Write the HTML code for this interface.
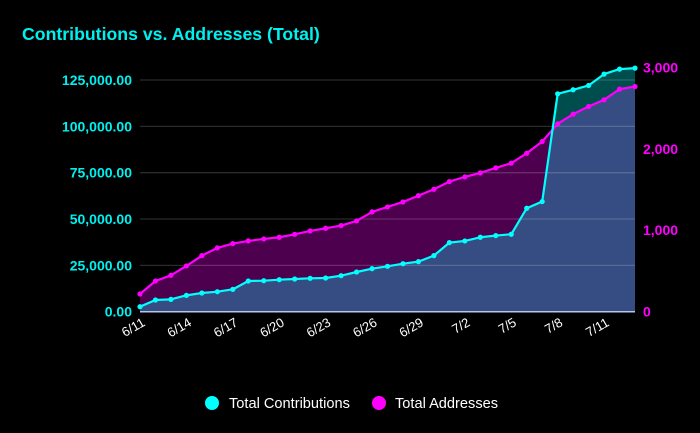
<!DOCTYPE html>
<html><head><meta charset="utf-8"><style>
html,body{margin:0;padding:0;background:#000;}
svg{display:block;font-family:"Liberation Sans",sans-serif;}
</style></head><body>
<svg id="chart" width="700" height="433" viewBox="0 0 700 433">
<rect x="0" y="0" width="700" height="433" fill="#000"/>
<text x="22" y="40" fill="#00f0f0" font-size="17.7" font-weight="bold">Contributions vs. Addresses (Total)</text>
<g id="plot"></g>
<g>
<g>
<circle cx="212" cy="403" r="7" fill="#00ffff"/>
<text x="229" y="408" fill="#fff" font-size="14.6">Total Contributions</text></g>
<g>
<circle cx="379" cy="403" r="7" fill="#ff00ff"/>
<text x="395" y="408" fill="#fff" font-size="14.6">Total Addresses</text></g>
</g>
</svg>
<script>
const dates = ["6/11","6/12","6/13","6/14","6/15","6/16","6/17","6/18","6/19","6/20","6/21","6/22","6/23","6/24","6/25","6/26","6/27","6/28","6/29","6/30","7/1","7/2","7/3","7/4","7/5","7/6","7/7","7/8","7/9","7/10","7/11","7/12","7/13"];
const contributions = [2700,6300,6660,8820,10080,10800,12060,16560,16740,17280,17640,18000,18180,19440,21420,23220,24480,25900,27000,30260,37280,38180,40160,41060,41780,55820,59420,117560,119720,122060,128180,130880,131420];
const addresses = [217,377,447,562,688,783,836,869,893,914,950,991,1024,1057,1114,1225,1286,1347,1425,1503,1597,1655,1704,1765,1823,1945,2089,2306,2425,2519,2601,2732,2764];
const leftTicks = [0,25000,50000,75000,100000,125000];
const leftTickLabels = ["0.00","25,000.00","50,000.00","75,000.00","100,000.00","125,000.00"];
const rightTicks = [0,1000,2000,3000];
const rightTickLabels = ["0","1,000","2,000","3,000"];

const NS="http://www.w3.org/2000/svg";
const g=document.getElementById('plot');
const X0=140,X1=635,Y0=311.7;
const x=i=>X0+i*(X1-X0)/(dates.length-1);
const yL=v=>Y0-v*(231.7/125000);
const yR=v=>Y0-v*(244.4/3000);
function mk(tag,attrs){const e=document.createElementNS(NS,tag);for(const k in attrs)e.setAttribute(k,attrs[k]);g.appendChild(e);return e;}

let pm="M"+x(0)+","+Y0;addresses.forEach((v,i)=>pm+=" L"+x(i)+","+yR(v));pm+=" L"+x(addresses.length-1)+","+Y0+"Z";
const am=mk('path',{d:pm,fill:'rgba(255,0,255,0.3)'});


let pc="M"+x(0)+","+Y0;contributions.forEach((v,i)=>pc+=" L"+x(i)+","+yL(v));pc+=" L"+x(contributions.length-1)+","+Y0+"Z";
const ac=mk('path',{d:pc,fill:'rgba(0,255,255,0.3)'});



leftTicks.forEach((v,i)=>{
  if(v>0){const gl=mk('line',{x1:X0,x2:X1,y1:yL(v),y2:yL(v),stroke:'rgba(255,255,255,0.17)','stroke-width':1.3});
  
  }
  const t=mk('text',{x:132,y:yL(v)+5,fill:'#00f0f0','font-size':14,'font-weight':'bold','text-anchor':'end'});
  t.textContent=leftTickLabels[i];
  
  
});
rightTicks.forEach((v,i)=>{
  const t=mk('text',{x:643,y:yR(v)+5,fill:'#ff00ff','font-size':14,'font-weight':'bold'});
  t.textContent=rightTickLabels[i];
  
  
});
const base=mk('line',{x1:X0,x2:X1,y1:Y0,y2:Y0,stroke:'#b8c4e8','stroke-width':1.5});



dates.forEach((d,i)=>{
  if(i%3!==0)return;
  const t=mk('text',{x:x(i)+6,y:325,fill:'#fff','font-size':13,'text-anchor':'end',transform:'rotate(-30 '+(x(i)+6)+' 325)'});
  t.textContent=d;
  
  
});

function series(vals,yf,color,name){
  const pts=vals.map((v,i)=>x(i)+","+yf(v)).join(" ");
  const l=mk('polyline',{points:pts,fill:'none',stroke:color,'stroke-width':2.2,'stroke-linejoin':'round'});
  
  
  vals.forEach((v,i)=>{
    const c=mk('circle',{cx:x(i),cy:yf(v),r:2.6,fill:color});
    
    
  });
}
series(addresses,yR,'#ff00ff','addresses');
series(contributions,yL,'#00ffff','contributions');
</script>
</body></html>
